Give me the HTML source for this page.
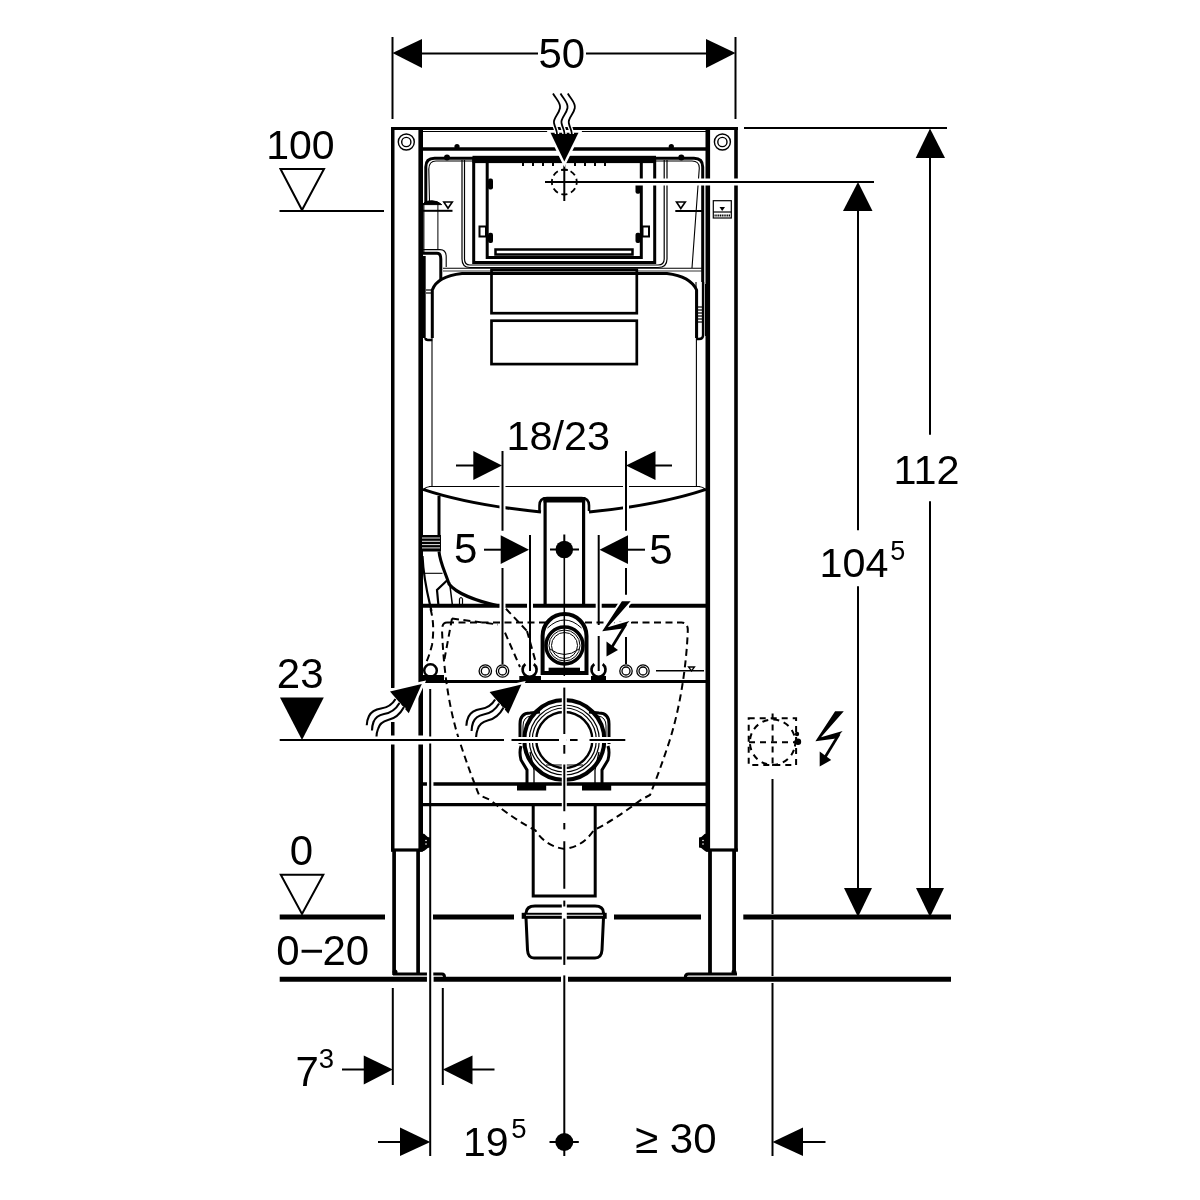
<!DOCTYPE html>
<html><head><meta charset="utf-8"><style>
html,body{margin:0;padding:0;background:#fff;}
svg{display:block;will-change:transform;}
text{font-family:"Liberation Sans",sans-serif;fill:#000;}
</style></head><body>
<svg width="1200" height="1200" viewBox="0 0 1200 1200">
<rect width="1200" height="1200" fill="#fff"/>
<g id="dims" stroke="#000" stroke-width="2" fill="none">
  <!-- 50 -->
  <line x1="392.5" y1="37" x2="392.5" y2="119"/>
  <line x1="735.5" y1="37" x2="735.5" y2="119"/>
  <line x1="400" y1="53.4" x2="538" y2="53.4"/>
  <line x1="586" y1="53.4" x2="730" y2="53.4"/>
  <!-- 100 level -->
  <line x1="279.5" y1="211" x2="384" y2="211"/>
  <polygon points="280.5,169 324,169 302,210" stroke-width="2"/>
  <!-- right dims -->
  <line x1="744" y1="128" x2="947" y2="128"/>
  <line x1="545" y1="182" x2="874" y2="182"/>
  <line x1="930" y1="150" x2="930" y2="434.7"/>
  <line x1="930" y1="501.3" x2="930" y2="895"/>
  <line x1="858" y1="205" x2="858" y2="530.3"/>
  <line x1="858" y1="586.3" x2="858" y2="895"/>
  <!-- 0 level -->
  <polygon points="280.8,874.7 323.3,874.7 302,914" stroke-width="2"/>
</g>
<g id="arrows" fill="#000" stroke="none">
  <polygon points="392.5,53 422,39 422,68"/>
  <polygon points="735.5,53 706,39 706,68"/>
  <polygon points="930,128.5 915.7,158 945,158"/>
  <polygon points="930,917 916,888 944,888"/>
  <polygon points="858,182 843,211 872.5,211"/>
  <polygon points="858,917 844,888 872,888"/>
  <polygon points="302,740 280,697.5 323.8,697.5"/>
</g>
<g id="floor" stroke="#000" stroke-width="5" fill="none">
  <line x1="279.7" y1="917" x2="385" y2="917"/>
  <line x1="433" y1="917" x2="514" y2="917"/>
  <line x1="614" y1="917" x2="701" y2="917"/>
  <line x1="743.3" y1="917" x2="951" y2="917"/>
  <line x1="279.7" y1="979.3" x2="427.5" y2="979.3"/>
  <line x1="433.3" y1="979.3" x2="561" y2="979.3"/>
  <line x1="568" y1="979.3" x2="951" y2="979.3"/>
</g>
<g id="frame" stroke="#000" stroke-width="3" fill="none">
  <line x1="391" y1="128.4" x2="738" y2="128.4" stroke-width="3"/>
  <line x1="420.7" y1="149" x2="707.8" y2="149" stroke-width="3.7"/>
  <line x1="392.75" y1="127" x2="392.75" y2="851.5" stroke-width="3.5"/>
  <line x1="420.7" y1="127" x2="420.7" y2="851.5" stroke-width="4.6"/>
  <line x1="707.8" y1="127" x2="707.8" y2="851.5" stroke-width="4.6"/>
  <line x1="736" y1="127" x2="736" y2="851.5" stroke-width="3.6"/>
  <line x1="391" y1="850" x2="422.5" y2="850" stroke-width="3.2"/>
  <line x1="706" y1="850" x2="737.8" y2="850" stroke-width="3.2"/>
  <!-- legs -->
  <line x1="394.1" y1="850" x2="394.1" y2="975" stroke-width="3.7"/>
  <line x1="418.1" y1="850" x2="418.1" y2="975" stroke-width="3.7"/>
  <line x1="710" y1="850" x2="710" y2="975" stroke-width="3.8"/>
  <line x1="734.1" y1="850" x2="734.1" y2="975" stroke-width="3.8"/>
  <line x1="393" y1="974" x2="427" y2="974"/>
  <path d="M737,974 H688.5 Q685.3,974 685.3,977.5"/>
  <!-- crossbars -->
  <line x1="420.7" y1="605.8" x2="707.8" y2="605.8" stroke-width="4"/>
  <line x1="420.7" y1="681.5" x2="707.8" y2="681.5" stroke-width="3"/>
  <line x1="420.7" y1="784" x2="707.8" y2="784" stroke-width="3.3"/>
  <line x1="420.7" y1="804.6" x2="707.8" y2="804.6" stroke-width="3.3"/>
</g>

<g id="top" stroke="#000" fill="none" stroke-linecap="butt">
  <line x1="422" y1="131.5" x2="707" y2="131.5" stroke-width="1"/>
  <circle cx="406.3" cy="142" r="8" stroke-width="1.4"/>
  <circle cx="406.3" cy="142" r="4.6" stroke-width="1.4"/>
  <circle cx="722.4" cy="142" r="8" stroke-width="1.4"/>
  <circle cx="722.4" cy="142" r="4.6" stroke-width="1.4"/>
  <circle cx="457" cy="146.5" r="2.6" fill="#000" stroke="none"/>
  <circle cx="671.3" cy="146.5" r="2.6" fill="#000" stroke="none"/>
  <!-- cistern top outline -->
  <path d="M425.8,203 V167 Q425.8,158.3 434.5,158.3 H694 Q702.7,158.3 702.7,167 V282" stroke-width="3"/>
  <line x1="423.8" y1="203" x2="423.8" y2="252" stroke-width="1.2"/>
  <path d="M429.5,201 L428.8,169 Q429,161 436,161 H692 Q699.3,161 699.3,168 L692,268" stroke-width="1.1"/>
  <circle cx="447" cy="157.5" r="3" fill="#000" stroke="none"/>
  <circle cx="681.3" cy="157.5" r="3" fill="#000" stroke="none"/>
  <!-- flush box -->
  <path d="M473.7,159 V262.5 H654.7 V159" stroke-width="3"/>
  <path d="M487.2,160 V257.5 H641.3 V160" stroke-width="3"/>
  <rect x="472.5" y="155.8" width="183.5" height="7.3" fill="#000" stroke="none"/>
  <path d="M462,160 V259 Q462,267.5 470,267.5 H658 Q667,267.5 667,259 V160" stroke-width="1.2"/>
  <path d="M464.5,160 V259 Q464.5,265 470,265 H658 Q664.2,265 664.2,259 V160" stroke-width="1.2"/>
  <rect x="495.5" y="249.5" width="137" height="5" stroke-width="2.5"/>
  <g stroke-width="2">
    <line x1="523" y1="161" x2="523" y2="166"/><line x1="533" y1="161" x2="533" y2="166"/>
    <line x1="543" y1="161" x2="543" y2="166"/><line x1="553" y1="161" x2="553" y2="166"/>
    <line x1="575" y1="161" x2="575" y2="166"/><line x1="585" y1="161" x2="585" y2="166"/>
    <line x1="595" y1="161" x2="595" y2="166"/><line x1="605" y1="161" x2="605" y2="166"/>
  </g>
  <!-- nubs and tabs -->
  <rect x="488" y="178.6" width="5" height="10.8" rx="2" fill="#000" stroke="none"/>
  <rect x="488" y="232.8" width="5" height="10.2" rx="2" fill="#000" stroke="none"/>
  <rect x="479.5" y="226.5" width="6.5" height="10" stroke-width="2"/>
  <rect x="635.5" y="183" width="5" height="10.8" rx="2" fill="#000" stroke="none"/>
  <rect x="635.5" y="232.8" width="5" height="10.2" rx="2" fill="#000" stroke="none"/>
  <rect x="642.5" y="226.5" width="6.5" height="10" stroke-width="2"/>
  <!-- level marks -->
  <line x1="423" y1="210.8" x2="452.5" y2="210.8" stroke-width="2"/>
  <polygon points="443.8,202 452.3,202 448,208.3" stroke-width="1.6"/>
  <line x1="675.3" y1="211" x2="702.7" y2="211" stroke-width="2"/>
  <polygon points="676.5,202 685.3,202 680.8,208.5" stroke-width="1.6"/>
  <!-- label box -->
  <rect x="713.3" y="200.7" width="18" height="17.3" stroke-width="1.2"/>
  <line x1="713.3" y1="212" x2="731.3" y2="212" stroke-width="1.2"/>
  <polygon points="719.5,207 725,207 722.2,211" fill="#000" stroke="none"/>
  <line x1="714.5" y1="215.5" x2="730" y2="215.5" stroke-width="2" stroke-dasharray="1.2 0.6"/>
  <!-- left float valve -->
  <path d="M423,204.6 Q424,200.8 432,200.8 Q438,200.8 441.7,204.6 Z" fill="#000" stroke-width="1"/>
  <line x1="437.9" y1="204" x2="437.9" y2="249.5" stroke-width="1"/>
  <path d="M423,249.6 H440 Q446.2,249.6 446.2,256.7 V267" stroke-width="1.1"/>
  <path d="M423,253.3 H437 Q440.8,253.3 440.8,259 V280" stroke-width="3"/>
  <line x1="424.2" y1="256" x2="424.2" y2="338" stroke-width="3"/>
  <line x1="630" y1="182" x2="745" y2="182" stroke="#fff" stroke-width="7"/>
  <line x1="545" y1="182" x2="874" y2="182" stroke="#000" stroke-width="2"/>
  <!-- right float -->
  <path d="M696,282 V338" stroke-width="1.1"/>
</g>

<g id="inlet" fill="none" stroke="#000">
  <circle cx="564.3" cy="182" r="12.5" stroke-width="1.8" stroke-dasharray="6 3.8" transform="rotate(-60 564.3 182)"/>
  <line x1="564.3" y1="164" x2="564.3" y2="201" stroke-width="2"/>
  <line x1="561" y1="170" x2="568" y2="170" stroke-width="1.5"/>
  <polygon points="550.5,132.8 578.5,132.8 564.3,161.5" fill="#000" stroke="#fff" stroke-width="5" stroke-linejoin="miter"/>
  <polygon points="550.5,132.8 578.5,132.8 564.3,161.5" fill="#000" stroke="none"/>
  <g stroke-width="4.5" stroke="#fff">
    <path d="M553,93.5 C556,99 561,103 560,108 C559,114 553,118 554,123 C555,128 557,130 557,134"/>
    <path d="M560.5,93.5 C563.5,99 568.5,103 567.5,108 C566.5,114 560.5,118 561.5,123 C562.5,128 564.5,130 564.5,134"/>
    <path d="M567.8,93.5 C570.8,99 575.8,103 574.8,108 C573.8,114 567.8,118 568.8,123 C569.8,128 571.8,130 571.8,134"/>
  </g>
  <g stroke-width="1.8">
    <path d="M553,93.5 C556,99 561,103 560,108 C559,114 553,118 554,123 C555,128 557,130 557,134"/>
    <path d="M560.5,93.5 C563.5,99 568.5,103 567.5,108 C566.5,114 560.5,118 561.5,123 C562.5,128 564.5,130 564.5,134"/>
    <path d="M567.8,93.5 C570.8,99 575.8,103 574.8,108 C573.8,114 567.8,118 568.8,123 C569.8,128 571.8,130 571.8,134"/>
  </g>
</g>

<g id="body" fill="none" stroke="#000">
  <line x1="443" y1="268.3" x2="703" y2="268.3" stroke-width="1.1"/>
  <line x1="443" y1="271" x2="703" y2="271" stroke-width="0.8"/>
  <path d="M432.3,338 V290 C435,282 445,275.5 462,273.5 H667 C683,275.5 693,282 696.6,290 V338" stroke-width="3"/>
  <path d="M425.5,338 Q425.5,340 428,340 H432.3" stroke-width="2.5"/>
  <path d="M703.1,282 V335 Q703.1,339 699,339 H696.6" stroke-width="2.5"/>
  <line x1="432" y1="338" x2="432" y2="487" stroke-width="1.1"/>
  <line x1="696.4" y1="338" x2="696.4" y2="487" stroke-width="1.1"/>
  <line x1="705.5" y1="284" x2="705.5" y2="336" stroke-width="1"/>
  <rect x="491.5" y="269.8" width="145.3" height="43.4" stroke-width="2.7"/>
  <rect x="491.5" y="320.7" width="145.3" height="43.4" stroke-width="2.7"/>
  <g stroke-width="1.2">
    <line x1="697" y1="307" x2="703" y2="307"/><line x1="697" y1="310" x2="703" y2="310"/>
    <line x1="697" y1="313" x2="703" y2="313"/><line x1="697" y1="316" x2="703" y2="316"/>
    <line x1="697" y1="319" x2="703" y2="319"/><line x1="697" y1="322" x2="703" y2="322"/>
    <line x1="426" y1="290" x2="432" y2="290"/><line x1="426" y1="293" x2="432" y2="293"/>
  </g>
  <!-- bottom of cistern -->
  <path d="M429,486.5 H700" stroke-width="1.1"/>
  <path d="M424,489 Q426,487 430,486.5" stroke-width="1.1"/>
  <path d="M705,489 Q703,487 699,486.5" stroke-width="1.1"/>
  <path d="M423,489.3 Q470,505 541,512" stroke-width="3"/>
  <path d="M706,489.3 Q659,505 589,512" stroke-width="3"/>
</g>

<g id="mid" fill="none" stroke="#000">
  <!-- flush pipe -->
  <path d="M539.5,512 V505.5 Q539.5,498 547,498 H581.5 Q589,498 589,505.5 V511" stroke-width="2.6"/>
  <rect x="543.5" y="497" width="41.6" height="5.5" fill="#000" stroke="none"/>
  <line x1="545.1" y1="500" x2="545.1" y2="606" stroke-width="3.2"/>
  <line x1="583.6" y1="500" x2="583.6" y2="606" stroke-width="3.2"/>
  <!-- left valve housing -->
  <line x1="439" y1="496" x2="439" y2="535" stroke-width="3"/>
  <rect x="421" y="535" width="20" height="16.5" fill="#000" stroke="none"/>
  <g stroke="#fff" stroke-width="0.9">
    <line x1="422" y1="538" x2="440" y2="538"/><line x1="422" y1="541.3" x2="440" y2="541.3"/>
    <line x1="422" y1="544.6" x2="440" y2="544.6"/><line x1="422" y1="547.9" x2="440" y2="547.9"/>
  </g>
  <path d="M439,551.5 C440,563 446,574 449,584 C456,593 476,601 499,606" stroke-width="3"/>
  <line x1="424" y1="573.3" x2="442.5" y2="573.3" stroke-width="1.1"/>
  <path d="M447.5,580 L437,590 L438.5,606" stroke-width="2.2"/>
  <path d="M449.5,582 L452.5,606" stroke-width="1.5"/>
  <path d="M459.5,606 V599 Q461,596 462.5,599 V606" stroke-width="1.2"/>
  <path d="M422.5,556 C423.5,580 428,596 431.5,611" stroke-width="2.2"/>
  <!-- 18/23 dim -->
  <line x1="456" y1="465.5" x2="474" y2="465.5" stroke-width="2"/>
  <line x1="655" y1="465.5" x2="672" y2="465.5" stroke-width="2"/>
  <polygon points="502,465.5 473.3,451 473.3,480" fill="#000" stroke="none"/>
  <polygon points="626,465.5 655.5,451 655.5,480" fill="#000" stroke="none"/>
  <!-- 5 dims -->
  <line x1="484" y1="549.7" x2="502" y2="549.7" stroke-width="2"/>
  <line x1="627" y1="549.7" x2="645" y2="549.7" stroke-width="2"/>
  <polygon points="529,549.7 500.7,535.3 500.7,564" fill="#000" stroke="none"/>
  <polygon points="599.5,549.7 628,535.3 628,564" fill="#000" stroke="none"/>
  <circle cx="564.3" cy="549.5" r="8.8" fill="#000" stroke="none"/>
  <line x1="550" y1="549.5" x2="579" y2="549.5" stroke-width="2"/>
  <line x1="564.3" y1="534.5" x2="564.3" y2="541" stroke-width="2"/><line x1="564.3" y1="555" x2="564.3" y2="606" stroke-width="1.6"/>
</g>
<g id="extl" fill="none">
  <g stroke="#fff" stroke-width="6">
    <line x1="502.5" y1="486" x2="502.5" y2="487"/>
    <line x1="502.5" y1="500" x2="502.5" y2="512"/>
    <line x1="626" y1="486" x2="626" y2="487"/>
    <line x1="626" y1="500" x2="626" y2="512"/>
    <line x1="502.5" y1="602" x2="502.5" y2="611"/>
    <line x1="626" y1="602" x2="626" y2="611"/>
  </g>
  <g stroke="#fff" stroke-width="6">
    <line x1="530" y1="602.5" x2="530" y2="609"/>
    <line x1="598.7" y1="602.5" x2="598.7" y2="609"/>
  </g>
  <g stroke="#000" stroke-width="2">
    <line x1="502.5" y1="451" x2="502.5" y2="530.75"/>
    <line x1="502.5" y1="568" x2="502.5" y2="664"/>
    <line x1="626" y1="451" x2="626" y2="530.75"/>
    <line x1="626" y1="568" x2="626" y2="594.7"/>
    <line x1="626" y1="637" x2="626" y2="664"/>
    <line x1="530" y1="535" x2="530" y2="671"/>
    <line x1="598.7" y1="535" x2="598.7" y2="625"/>
    <line x1="598.7" y1="636" x2="598.7" y2="671"/>
  </g>
</g>

<g id="cross" fill="none" stroke="#000">
  <!-- dashed outlines -->
  <g stroke-width="2" stroke-dasharray="7 4.5">
    <path d="M430.5,609 Q435,625 432,645 Q429,657 425,665"/>
    <path d="M447,622.5 H681.5 Q687.8,622.5 687.8,630 C687,655 682.5,700 669.5,741 Q660,770 650,795 L641.5,799.5 Q614,820 593.5,830.5 Q583,846.5 564.6,849 Q546,846.5 535.5,830.5 Q515,820 489.5,799.5 L479,795 Q469,770 459.5,741 C446,700 443,655 442,630 Q442,622.5 447,622.5"/>
    <path d="M452,618.5 L498,624.5"/>
    <path d="M452,618.5 L444.5,659"/>
    <path d="M506,608.8 L527,631"/>
    <path d="M505,632.7 L520,667"/>
    <path d="M527,631 L536,663"/>
  </g>
  <!-- elbow fitting -->
  <path d="M542.6,673 V636 A21.95,21.95 0 0 1 586.5,636 V673 Z" stroke-width="4" fill="#fff"/>
  <circle cx="564.5" cy="645.5" r="18.5" stroke-width="3.5"/>
  <circle cx="564.5" cy="645.5" r="15.5" stroke-width="1"/>
  <circle cx="564.5" cy="645.5" r="13" stroke-width="1"/>
  <path d="M547.5,628 Q564.5,612 581.5,628" stroke-width="1"/>
  <path d="M550,649 Q564.5,660 579,649" stroke-width="1"/>
  <rect x="548.6" y="667.7" width="31.4" height="6" fill="#000" stroke="none"/>
  <line x1="564.3" y1="606" x2="564.3" y2="676" stroke-width="1.5"/>
  <!-- clips -->
  <path d="M525.4,664.2 A7,7 0 1 0 533.8,664.2" stroke-width="2.7"/>
  <rect x="519.3" y="676" width="21.7" height="5.5" fill="#000" stroke="none"/>
  <path d="M594.3,664.2 A7,7 0 1 0 602.7,664.2" stroke-width="2.7"/>
  <rect x="591" y="676" width="15" height="5" fill="#000" stroke="none"/>
  <circle cx="430.5" cy="670.5" r="6.3" stroke-width="2.5"/>
  <rect x="422" y="675" width="22" height="6" fill="#000" stroke="none"/>
  <!-- fitting rings -->
  <g stroke-width="1.3">
    <circle cx="485.3" cy="671" r="6.2"/><circle cx="485.3" cy="671" r="4"/>
    <circle cx="502.5" cy="671" r="6.2"/><circle cx="502.5" cy="671" r="4"/>
    <circle cx="626" cy="671" r="6.2"/><circle cx="626" cy="671" r="4"/>
    <circle cx="643" cy="671" r="6.2"/><circle cx="643" cy="671" r="4"/>
  </g>
  <!-- level mark right -->
  <line x1="656" y1="670.7" x2="704" y2="670.7" stroke-width="1.5"/>
  <polygon points="688.5,667 694.5,667 691.5,671" fill="none" stroke="#000" stroke-width="1.3"/>
  <!-- lightning -->
  <g stroke="#fff" stroke-width="4" fill="#fff">
    <polygon points="621.9,601.3 630.6,601.3 607.8,627.3 629.4,620.9 623,628.5 602.2,631.3"/>
  </g>
  <g>
  <polygon points="621.9,601.3 630.6,601.3 607.8,627.3 629.4,620.9 623,628.5 602.2,631.3" fill="#000" stroke="none"/>
  <line x1="626" y1="624" x2="612" y2="647" stroke-width="2.7"/>
  <polygon points="606.5,641.5 618,650 606.5,656.6" fill="#000" stroke="none"/>
  </g>
</g>
<g id="drain" fill="none" stroke="#000">
  <!-- bracket -->
  <path d="M520,744 V724 Q520,713 530,713 L540,712" stroke-width="3"/>
  <path d="M609,744 V724 Q609,713 599,713 L589,712" stroke-width="3"/>
  <path d="M523,737 V726 Q523,717 531,716" stroke-width="1"/>
  <path d="M606,737 V726 Q606,717 598,716" stroke-width="1"/>
  <path d="M521,746 Q519,752 521,760 L527,770 V784" stroke-width="3"/>
  <path d="M608,746 Q610,752 608,760 L602,770 V784" stroke-width="3"/>
  <path d="M530,752 L534,770 V784" stroke-width="1.3"/>
  <path d="M599,752 L595,770 V784" stroke-width="1.3"/>
  <circle cx="564.3" cy="740" r="40" stroke-width="4"/>
  <circle cx="564.3" cy="740" r="35" stroke-width="1.2"/>
  <circle cx="564.3" cy="740" r="32" stroke-width="1.2"/>
  <circle cx="564.3" cy="740" r="28" stroke-width="2.4"/>
  <path d="M546,765 H583" stroke-width="1.2"/>
  <rect x="517" y="784" width="29.2" height="6.5" fill="#000" stroke="none"/>
  <rect x="582" y="784" width="29.2" height="6.5" fill="#000" stroke="none"/>
  <!-- drain pipe below -->
  <path d="M533.2,805 V896 H595.2 V805" stroke-width="3"/>
  <!-- bottom box -->
  <path d="M526,916 V913 Q526.5,906 535,906 H595 Q603.5,906 603.5,913 V916 M603.5,918 L602,950 Q601.5,958 595,958 H534 Q528,958 527.5,950 L526,918" stroke-width="3"/>
  <rect x="521.7" y="912.8" width="85" height="6" fill="#000" stroke="none"/>
  <line x1="526" y1="915.3" x2="603" y2="915.3" stroke="#fff" stroke-width="1.1"/>
</g>
<g id="clines" fill="none">
  <g stroke="#fff" stroke-width="6">
    <line x1="420" y1="740" x2="625" y2="740"/>
  </g>
  <g stroke="#000" stroke-width="2">
    <line x1="279.7" y1="740" x2="504" y2="740"/>
    <line x1="511.5" y1="740" x2="559" y2="740"/>
    <line x1="562.5" y1="740" x2="566.5" y2="740"/>
    <line x1="570" y1="740" x2="577.6" y2="740"/>
    <line x1="589.5" y1="740" x2="625.3" y2="740"/>
  </g>
  <g stroke="#fff" stroke-width="5">
    <line x1="564.3" y1="686" x2="564.3" y2="792"/>
    <line x1="564.3" y1="800" x2="564.3" y2="809"/>
    <line x1="564.3" y1="903" x2="564.3" y2="920"/>
    <line x1="564.3" y1="954" x2="564.3" y2="962"/>
    <line x1="564.3" y1="975" x2="564.3" y2="984"/>
  </g>
  <g stroke="#000" stroke-width="2">
    <line x1="564.3" y1="687.6" x2="564.3" y2="734"/>
    <line x1="564.3" y1="745" x2="564.3" y2="753.7"/>
    <line x1="564.3" y1="764.5" x2="564.3" y2="811.25"/>
    <line x1="564.3" y1="823" x2="564.3" y2="829.4"/>
    <line x1="564.3" y1="841.25" x2="564.3" y2="888.75"/>
    <line x1="564.3" y1="900.6" x2="564.3" y2="906.5"/>
    <line x1="564.3" y1="918.5" x2="564.3" y2="964.9"/>
    <line x1="564.3" y1="975.4" x2="564.3" y2="1156"/>
  </g>
</g>

<g id="left" fill="none" stroke="#000">
  <!-- gaps in posts for center line -->
  <g stroke="#fff" stroke-width="6">
    <line x1="392.75" y1="735.5" x2="392.75" y2="744.5"/>
    <line x1="420.7" y1="735.5" x2="420.7" y2="744.5"/>
  </g>
  <line x1="385" y1="740" x2="440" y2="740" stroke-width="2"/>
  <line x1="392.75" y1="688" x2="392.75" y2="722" stroke="#fff" stroke-width="5.5"/>
  <!-- thin line -->
  <line x1="430.2" y1="689" x2="430.2" y2="736.5" stroke-width="2"/>
  <line x1="430.2" y1="970.5" x2="430.2" y2="984" stroke="#fff" stroke-width="6.5"/>
  <path d="M433.3,974 H442 Q444.5,974 444.5,977" stroke-width="3"/>
  <line x1="430.2" y1="780" x2="430.2" y2="788" stroke="#fff" stroke-width="6.5"/>
  <line x1="430.2" y1="743.5" x2="430.2" y2="1156" stroke-width="2"/>
  <!-- wavy arrows -->
  <g>
    <polygon points="421.8,684 390,691.5 408.75,713.25" fill="#fff" stroke="#fff" stroke-width="5"/>
    <polygon points="421.8,684 390,691.5 408.75,713.25" fill="#000" stroke="none"/>
    <g stroke-width="4.2" stroke="#fff">
      <path d="M395.5,699 Q391,707 381,708.5 Q372,710 369,716 Q367,720 366.75,725.25"/>
      <path d="M399.5,703 Q394,712.5 384,714 Q376,715.5 373.5,722 Q372,726 372,730.5"/>
      <path d="M404,707 Q398,718 388,720 Q380,722 378,729 Q376.5,733 376.5,736.5"/>
    </g>
    <g stroke-width="2.1">
      <path d="M395.5,699 Q391,707 381,708.5 Q372,710 369,716 Q367,720 366.75,725.25"/>
      <path d="M399.5,703 Q394,712.5 384,714 Q376,715.5 373.5,722 Q372,726 372,730.5"/>
      <path d="M404,707 Q398,718 388,720 Q380,722 378,729 Q376.5,733 376.5,736.5"/>
    </g>

  </g>
  <g transform="translate(99.6,0.5)">
    <polygon points="421.8,684 390,691.5 408.75,713.25" fill="#fff" stroke="#fff" stroke-width="5"/>
    <polygon points="421.8,684 390,691.5 408.75,713.25" fill="#000" stroke="none"/>
    <g stroke-width="4.2" stroke="#fff">
      <path d="M395.5,699 Q391,707 381,708.5 Q372,710 369,716 Q367,720 366.75,725.25"/>
      <path d="M399.5,703 Q394,712.5 384,714 Q376,715.5 373.5,722 Q372,726 372,730.5"/>
      <path d="M404,707 Q398,718 388,720 Q380,722 378,729 Q376.5,733 376.5,736.5"/>
    </g>
    <g stroke-width="2.1">
      <path d="M395.5,699 Q391,707 381,708.5 Q372,710 369,716 Q367,720 366.75,725.25"/>
      <path d="M399.5,703 Q394,712.5 384,714 Q376,715.5 373.5,722 Q372,726 372,730.5"/>
      <path d="M404,707 Q398,718 388,720 Q380,722 378,729 Q376.5,733 376.5,736.5"/>
    </g>

  </g>
</g>
<g id="wall" fill="none" stroke="#000">
  <rect x="748.7" y="718.3" width="47.4" height="46.8" stroke-width="2" stroke-dasharray="6 5"/>
  <circle cx="772.6" cy="742.2" r="22.7" stroke-width="2" stroke-dasharray="6 5" transform="rotate(20 772.6 742.2)"/>
  <line x1="749" y1="742.2" x2="796" y2="742.2" stroke-width="2" stroke-dasharray="6 5"/>
  <line x1="772.6" y1="713.5" x2="772.6" y2="766" stroke-width="2" stroke-dasharray="6 5"/>
  <circle cx="798" cy="741.7" r="3.2" fill="#000" stroke="none"/>
  <circle cx="797" cy="734" r="2.2" fill="#000" stroke="none"/>
  <g transform="translate(213.2,110)">
  <polygon points="621.9,601.3 630.6,601.3 607.8,627.3 629.4,620.9 623,628.5 602.2,631.3" fill="#000" stroke="none"/>
  <line x1="626" y1="624" x2="612" y2="647" stroke-width="2.7"/>
  <polygon points="606.5,641.5 618,650 606.5,656.6" fill="#000" stroke="none"/>
  </g>
  <line x1="772.5" y1="779" x2="772.5" y2="914" stroke-width="2"/>
  <line x1="772.5" y1="920" x2="772.5" y2="976" stroke-width="2"/>
  <line x1="772.5" y1="983" x2="772.5" y2="1156" stroke-width="2"/>
</g>
<g id="bottom" fill="none" stroke="#000">
  <line x1="392.8" y1="988" x2="392.8" y2="1085" stroke-width="2"/>
  <line x1="442.8" y1="988" x2="442.8" y2="1085" stroke-width="2"/>
  <line x1="342" y1="1069.5" x2="365" y2="1069.5" stroke-width="2"/>
  <line x1="471" y1="1069.5" x2="494.5" y2="1069.5" stroke-width="2"/>
  <polygon points="392.8,1069.5 363.75,1055.5 363.75,1084.5" fill="#000" stroke="none"/>
  <polygon points="442.8,1069.5 472.5,1055.5 472.5,1084.5" fill="#000" stroke="none"/>
  <line x1="378" y1="1142" x2="401" y2="1142" stroke-width="2"/>
  <polygon points="430.3,1142 400,1127.5 400,1156" fill="#000" stroke="none"/>
  <line x1="549.5" y1="1142" x2="578.8" y2="1142" stroke-width="2"/>
  <circle cx="564.3" cy="1142" r="9" fill="#000" stroke="none"/>
  <line x1="802" y1="1142" x2="825.5" y2="1142" stroke-width="2"/>
  <polygon points="772.5,1142 803,1127.5 803,1156" fill="#000" stroke="none"/>
</g>

<g id="bolts" fill="#000" stroke="none">
  <path d="M420,834 Q424,832.5 426,835.5 Q427.5,837.5 430,837.5 V847.5 Q427.5,847.5 426,849.5 Q424,852 420,851.5 Z"/>
  <circle cx="426" cy="840.5" r="0.8" fill="#fff"/><circle cx="426" cy="844" r="0.8" fill="#fff"/>
  <path d="M709,834 Q705,832.5 703,835.5 Q701.5,837.5 699,837.5 V847.5 Q701.5,847.5 703,849.5 Q705,852 709,851.5 Z"/>
  <circle cx="703" cy="840.5" r="0.8" fill="#fff"/><circle cx="703" cy="844" r="0.8" fill="#fff"/>
  <circle cx="395" cy="972" r="2.5"/>
  <circle cx="734" cy="972" r="2.5"/>
</g>
<g id="texts">
  <text x="538.4" y="67.9" font-size="42">50</text>
  <text x="266.2" y="159" font-size="41">100</text>
  <text x="893.6" y="484" font-size="41.4">112</text>
  <text x="819.6" y="577" font-size="41.3">104</text>
  <text x="890.2" y="560.2" font-size="27">5</text>
  <text x="506.5" y="449.8" font-size="41.4">18/23</text>
  <text x="276.8" y="688.3" font-size="42">23</text>
  <text x="289.7" y="865" font-size="42">0</text>
  <text x="276.2" y="964.7" font-size="42">0−<tspan dx="-1.7">20</tspan></text>
  <text x="295.5" y="1086" font-size="42">7</text>
  <text x="318.8" y="1068" font-size="27.5">3</text>
  <text x="463" y="1156" font-size="41">19</text>
  <text x="511.3" y="1138" font-size="27.5">5</text>
  <text x="635.1" y="1153" font-size="42">≥ 30</text>
  <text x="454.1" y="562.6" font-size="42">5</text>
  <text x="649.2" y="563.5" font-size="42">5</text>
</g>
</svg>
</body></html>
